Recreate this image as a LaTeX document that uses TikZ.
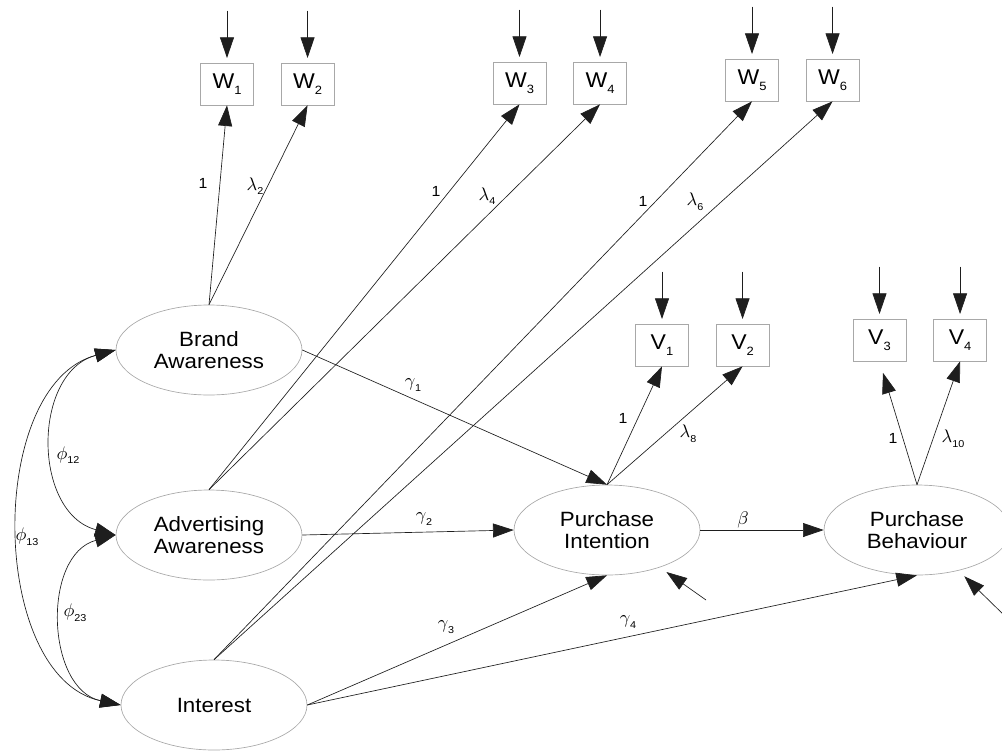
\documentclass[tikz,border=0pt]{standalone}
\usepackage{fontspec}
\setmainfont{Liberation Sans}[FakeStretch=1.08]
\usetikzlibrary{positioning,shapes.geometric,arrows.meta}
\definecolor{frame}{HTML}{A8A8A8}
\definecolor{ink}{HTML}{1E1E1E}
\newcommand\bsub[1]{\raisebox{-.55ex}{\fontsize{9}{9}\selectfont #1}}
\newcommand\lsub[1]{\raisebox{-.6ex}{\fontsize{7.5}{7.5}\selectfont #1}}
\newcommand\gk[2]{\scalebox{1.25}{$#1$}\lsub{#2}}

\begin{document}
\begin{tikzpicture}[x=0.75pt,y=-0.75pt,node distance=7mm,
  lat/.style={ellipse,draw=frame,line width=.5pt,minimum width=139.5pt,
              minimum height=67.5pt,align=center,font=\fontsize{15.5}{16.3}\selectfont},
  ind/.style={draw=frame,line width=.5pt,minimum width=40pt,minimum height=31.5pt,
              font=\fontsize{16}{16}\selectfont},
  arr/.style={-{Triangle[length=15.5pt,width=10.5pt]},ink,line width=.5pt},
  cov/.style={{Triangle[length=15.5pt,width=10.5pt]}-{Triangle[length=15.5pt,width=10.5pt]},ink,line width=.5pt},
  lbl/.style={inner sep=0pt,font=\fontsize{11}{11}\selectfont}]
\useasboundingbox (0,0) rectangle (1002,750);
\clip (0,0) rectangle (1002,750);
% latenti
\node[lat] (ba) at (209,350) {Brand\\Awareness};
\node[lat] (aa) at (209,535) {Advertising\\Awareness};
\node[lat] (in) at (214,705) {Interest};
\node[lat] (pi) at (607,530) {Purchase\\Intention};
\node[lat] (pb) at (917,530) {Purchase\\Behaviour};
% indicatori
\node[ind] (w1) at (227,84) {W\bsub{1}};
\node[ind,right=of w1] (w2) {W\bsub{2}};
\node[ind] (w3) at (519.5,83) {W\bsub{3}};
\node[ind,right=of w3] (w4) {W\bsub{4}};
\node[ind] (w5) at (752,80) {W\bsub{5}};
\node[ind,right=of w5] (w6) {W\bsub{6}};
\node[ind] (v1) at (662,345) {V\bsub{1}};
\node[ind,right=of v1] (v2) {V\bsub{2}};
\node[ind] (v3) at (879.5,340) {V\bsub{3}};
\node[ind,right=of v3] (v4) {V\bsub{4}};
% errori
\coordinate[above=13.75mm of w1] (ew1); \coordinate[above=13.75mm of w2] (ew2);
\coordinate[above=13.75mm of w3] (ew3); \coordinate[above=13.75mm of w4] (ew4);
\coordinate[above=13.75mm of w5] (ew5); \coordinate[above=13.75mm of w6] (ew6);
\coordinate[above=13.75mm of v1] (ev1); \coordinate[above=13.75mm of v2] (ev2);
\coordinate[above=13.75mm of v3] (ev3); \coordinate[above=13.75mm of v4] (ev4);
\coordinate (d1) at (706,600);
\coordinate (d2) at (1008,619);
\draw[arr,shorten >=3.5pt] (ew1)--(w1); \draw[arr,shorten >=3.5pt] (ew2)--(w2);
\draw[arr,shorten >=3.5pt] (ew3)--(w3); \draw[arr,shorten >=3.5pt] (ew4)--(w4);
\draw[arr,shorten >=3.5pt] (ew5)--(w5); \draw[arr,shorten >=3.5pt] (ew6)--(w6);
\draw[arr,shorten >=3.5pt] (ev1)--(v1); \draw[arr,shorten >=3.5pt] (ev2)--(v2);
\draw[arr,shorten >=3.5pt] (ev3)--(v3); \draw[arr,shorten >=3.5pt] (ev4)--(v4);
\draw[arr,shorten >=6pt] (d1)--(pi); \draw[arr,shorten >=6pt] (d2)--(pb);
% saturazioni
\draw[arr] (ba.north)--(w1.south); \draw[arr] (ba.north)--(w2.south);
\draw[arr] (aa.north)--(w3.south); \draw[arr] (aa.north)--(w4.south);
\draw[arr] (in.north)--(w5.south); \draw[arr] (in.north)--(w6.south);
\draw[arr] (pi.north)--(v1.south); \draw[arr] (pi.north)--(v2.south);
\draw[arr,shorten >=9pt] (pb.north)--(v3.south); \draw[arr] (pb.north)--(v4.south);
% relazioni strutturali
\draw[arr] (ba.east)--(pi.north);
\draw[arr] (aa.east)--(pi.west);
\draw[arr] (in.east)--(pi.south);
\draw[arr] (in.east)--(pb.south);
\draw[arr] (pi.east)--(pb.west);
% covarianze
\draw[cov] (ba.west) to[out=195,in=165,looseness=1.2] (aa.west);
\draw[cov] (aa.west) to[out=195,in=168,looseness=1.15] (in.west);
\draw[cov] (ba.west) to[out=195,in=168,looseness=0.97] (in.west);
% etichette
\node[lbl] (l1) at (203,183) {1};
\node[lbl] (l2) at (255,186) {\gk{\lambda}{2}};
\node[lbl] (l3) at (436,191) {1};
\node[lbl] (l4) at (487,196) {\gk{\lambda}{4}};
\node[lbl] (l5) at (643,201) {1};
\node[lbl] (l6) at (695,202) {\gk{\lambda}{6}};
\node[lbl] (l7) at (623,418) {1};
\node[lbl] (l8) at (688,434) {\gk{\lambda}{8}};
\node[lbl] (l9) at (893,438) {1};
\node[lbl] (l10) at (953,439) {\gk{\lambda}{10}};
\node[lbl] (g1) at (413,385) {\gk{\gamma}{1}};
\node[lbl] (g2) at (424,519) {\gk{\gamma}{2}};
\node[lbl] (g3) at (446,627) {\gk{\gamma}{3}};
\node[lbl] (g4) at (628,622) {\gk{\gamma}{4}};
\node[lbl] (bt) at (743,520) {\scalebox{1.25}{$\beta$}};
\node[lbl] (f12) at (68,455) {\gk{\phi}{12}};
\node[lbl] (f23) at (75,613) {\gk{\phi}{23}};
\node[lbl] (f13) at (27,537) {\gk{\phi}{13}};
\end{tikzpicture}
\end{document}
